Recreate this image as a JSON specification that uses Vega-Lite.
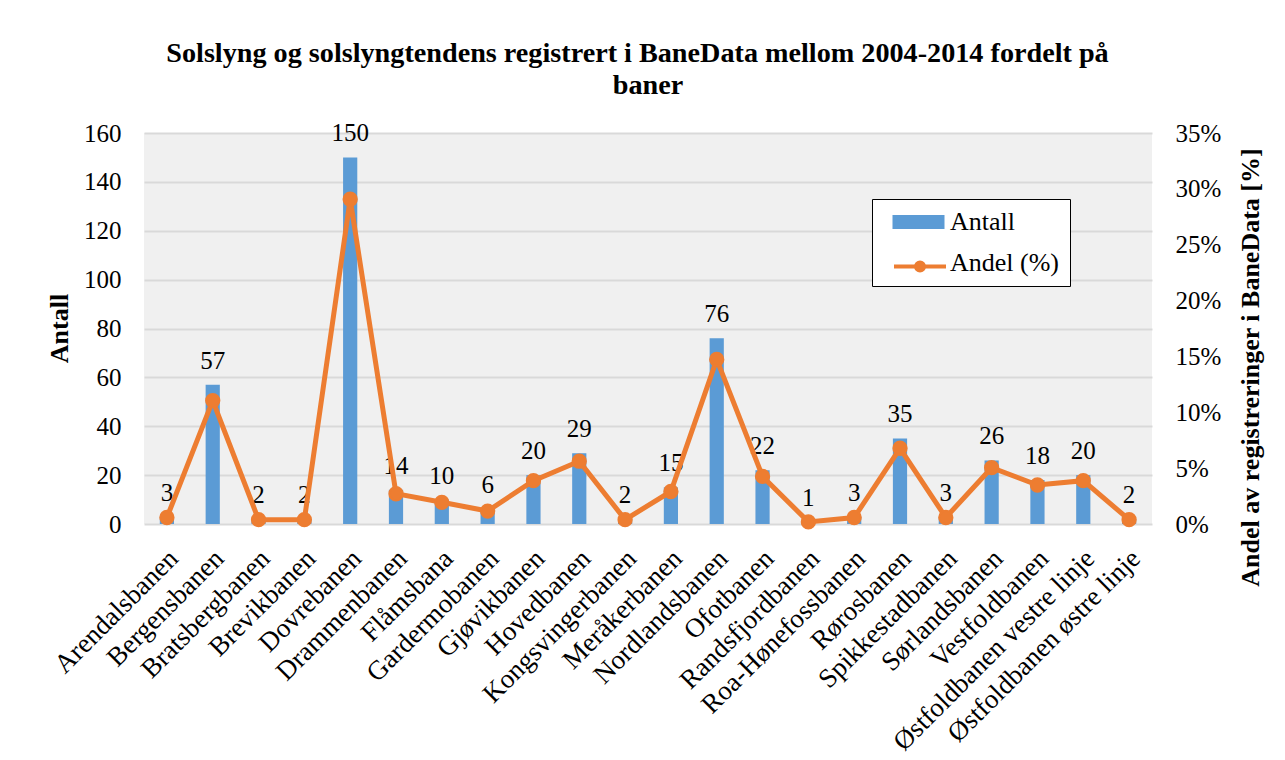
{
  "$schema": "https://vega.github.io/schema/vega-lite/v6.json",
  "width": 1008,
  "height": 391,
  "autosize": {"type": "none"},
  "padding": {"left": 144, "top": 133, "right": 133, "bottom": 236},
  "background": "white",
  "title": {
    "text": ["Solslyng og solslyngtendens registrert i BaneData mellom 2004-2014 fordelt på\u2800", "baner"],
    "font": "Liberation Serif",
    "fontSize": 28.2,
    "fontWeight": "bold",
    "color": "black",
    "lineHeight": 32,
    "anchor": "middle",
    "frame": "group",
    "offset": 21
  },
  "config": {
    "view": {"fill": "#f0f0f0", "stroke": null},
    "font": "Liberation Serif"
  },
  "data": {
    "values": [
      {"bane": "Arendalsbanen", "antall": 3, "andel": 0.0058},
      {"bane": "Bergensbanen", "antall": 57, "andel": 0.1105},
      {"bane": "Bratsbergbanen", "antall": 2, "andel": 0.0039},
      {"bane": "Brevikbanen", "antall": 2, "andel": 0.0039},
      {"bane": "Dovrebanen", "antall": 150, "andel": 0.2907},
      {"bane": "Drammenbanen", "antall": 14, "andel": 0.0271},
      {"bane": "Flåmsbana", "antall": 10, "andel": 0.0194},
      {"bane": "Gardermobanen", "antall": 6, "andel": 0.0116},
      {"bane": "Gjøvikbanen", "antall": 20, "andel": 0.0388},
      {"bane": "Hovedbanen", "antall": 29, "andel": 0.0562},
      {"bane": "Kongsvingerbanen", "antall": 2, "andel": 0.0039},
      {"bane": "Meråkerbanen", "antall": 15, "andel": 0.0291},
      {"bane": "Nordlandsbanen", "antall": 76, "andel": 0.1473},
      {"bane": "Ofotbanen", "antall": 22, "andel": 0.0426},
      {"bane": "Randsfjordbanen", "antall": 1, "andel": 0.0019},
      {"bane": "Roa-Hønefossbanen", "antall": 3, "andel": 0.0058},
      {"bane": "Rørosbanen", "antall": 35, "andel": 0.0678},
      {"bane": "Spikkestadbanen", "antall": 3, "andel": 0.0058},
      {"bane": "Sørlandsbanen", "antall": 26, "andel": 0.0504},
      {"bane": "Vestfoldbanen", "antall": 18, "andel": 0.0349},
      {"bane": "Østfoldbanen vestre linje", "antall": 20, "andel": 0.0388},
      {"bane": "Østfoldbanen østre linje", "antall": 2, "andel": 0.0039}
    ]
  },
  "encoding": {
    "x": {
      "field": "bane",
      "type": "nominal",
      "sort": null,
      "scale": {"paddingInner": 0.69, "paddingOuter": 0.345},
      "axis": {
        "title": null,
        "domain": false,
        "ticks": false,
        "tickSize": 0,
        "labelAngle": -45,
        "labelAlign": "right",
        "labelBaseline": "middle",
        "labelPadding": 30,
        "labelOffset": 7,
        "labelFont": "Liberation Serif",
        "labelFontSize": 27,
        "labelColor": "black",
        "labelLimit": 500,
        "labelOverlap": false
      }
    }
  },
  "layer": [
    {
      "encoding": {
        "y": {
          "field": "antall",
          "type": "quantitative",
          "scale": {"domain": [0, 160], "nice": false},
          "axis": {
            "title": "Antall",
            "titleFont": "Liberation Serif",
            "titleFontSize": 26,
            "titleFontWeight": "bold",
            "titleColor": "black",
            "titleX": -85,
            "titleY": 195,
            "titleAngle": -90,
            "titleAlign": "center",
            "titleBaseline": "middle",
            "values": [0, 20, 40, 60, 80, 100, 120, 140, 160],
            "grid": true,
            "gridColor": "#d9d9d9",
            "gridWidth": 2,
            "domain": false,
            "ticks": false,
            "tickSize": 0,
            "labelPadding": 23,
            "labelFont": "Liberation Serif",
            "labelFontSize": 25,
            "labelColor": "black"
          }
        }
      },
      "layer": [
        {
          "mark": {"type": "bar", "stroke": null},
          "encoding": {
            "color": {
              "datum": "Antall",
              "scale": {"domain": ["Antall", "Andel (%)"], "range": ["#5b9bd5", "rgba(0,0,0,0)"]},
              "legend": {
                "orient": "none",
                "legendX": 728,
                "legendY": 66,
                "title": null,
                "fillColor": "white",
                "strokeColor": "black",
                "padding": 10,
                "labelFont": "Liberation Serif",
                "labelFontSize": 26,
                "labelColor": "black",
                "symbolType": "M-0.2,-0.56H3.96V0.56H-0.2Z",
                "symbolSize": 625,
                "symbolStrokeWidth": 0,
                "labelOffset": 42,
                "rowPadding": 15,
                "labelLimit": 300,
                "encode": {"legend": {"strokeWidth": {"value": 2}}}
              }
            }
          }
        },
        {
          "mark": {"type": "text", "baseline": "alphabetic", "dy": -16, "fontSize": 25, "font": "Liberation Serif", "color": "black"},
          "encoding": {"text": {"field": "antall", "type": "quantitative"}}
        }
      ]
    },
    {
      "mark": {
        "type": "line",
        "strokeWidth": 5,
        "point": {"filled": true, "size": 177, "color": "#ed7d31"}
      },
      "encoding": {
        "stroke": {
          "datum": "Andel (%)",
          "scale": {"domain": ["Andel (%)"], "range": ["#ed7d31"]},
          "legend": {
            "orient": "none",
            "legendX": 738,
            "legendY": 119,
            "title": null,
            "padding": 0,
            "labelFont": "Liberation Serif",
            "labelFontSize": 26,
            "labelColor": "black",
            "labelExpr": "''",
            "symbolType": "M-0.2,0H3.96 M2.2,0A0.32,0.32 0 1,1 1.56,0A0.32,0.32 0 1,1 2.2,0Z M2.0,0A0.12,0.12 0 1,1 1.76,0A0.12,0.12 0 1,1 2.0,0Z",
            "symbolSize": 625,
            "symbolStrokeWidth": 4,
            "symbolFillColor": "#ed7d31",
            "labelOffset": 42,
            "labelLimit": 300
          }
        },
        "y": {
          "field": "andel",
          "type": "quantitative",
          "scale": {"domain": [0, 0.35], "nice": false},
          "axis": {
            "orient": "right",
            "title": "Andel av registreringer i BaneData [%]",
            "titleFont": "Liberation Serif",
            "titleFontSize": 26,
            "titleFontWeight": "bold",
            "titleColor": "black",
            "titleX": 98,
            "titleY": 234,
            "titleAngle": -90,
            "titleAlign": "center",
            "titleBaseline": "middle",
            "values": [0, 0.05, 0.1, 0.15, 0.2, 0.25, 0.3, 0.35],
            "format": ".0%",
            "grid": false,
            "domain": false,
            "ticks": false,
            "tickSize": 0,
            "labelPadding": 23,
            "labelFont": "Liberation Serif",
            "labelFontSize": 25,
            "labelColor": "black"
          }
        }
      }
    }
  ],
  "resolve": {"scale": {"y": "independent"}}
}
